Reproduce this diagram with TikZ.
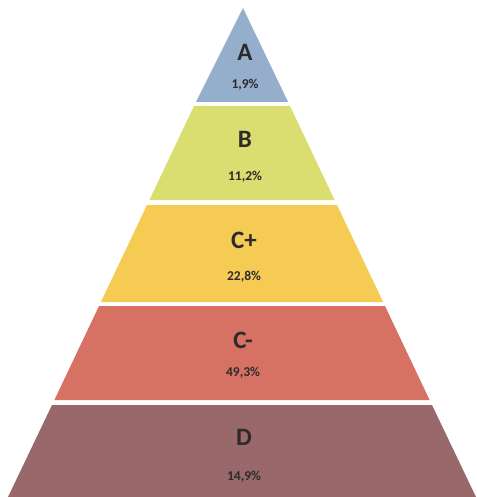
\documentclass[tikz,border=0pt]{standalone}
\usepackage{fontspec}
\setmainfont{Carlito}
\definecolor{cA}{RGB}{148,174,204}
\definecolor{cB}{RGB}{218,222,112}
\definecolor{cC}{RGB}{245,203,84}
\definecolor{cD}{RGB}{214,114,100}
\definecolor{cE}{RGB}{152,104,106}
\definecolor{txt}{RGB}{45,42,42}
\begin{document}
\begin{tikzpicture}[x=1pt,y=-1pt,
  letter/.style={font=\bfseries\fontsize{25}{25}\selectfont, text=txt, inner sep=0pt, anchor=center},
  pct/.style={font=\bfseries\fontsize{13.5}{13.5}\selectfont, text=txt, inner sep=0pt, anchor=center}]
\useasboundingbox (0,0) rectangle (476,497);
% bands
\fill[cA] (243,8) -- (288.1,102) -- (195.9,102) -- cycle;
\fill[cB] (194,106) -- (290,106) -- (334.6,200) -- (149.4,200) -- cycle;
\fill[cC] (147,205) -- (337,205) -- (383.1,302) -- (100.9,302) -- cycle;
\fill[cD] (99,306) -- (385,306) -- (429.6,400) -- (54.4,400) -- cycle;
\fill[cE] (52,405) -- (432,405) -- (476,497) -- (8,497) -- cycle;
% labels
\node[letter] (la) at (245,52) {A};
\node[pct] (pa) at (245,85) {1,9\%};
\node[letter] (lb) at (245,139) {B};
\node[pct] (pb) at (245,177) {11,2\%};
\node[letter] (lc) at (244,240) {C+};
\node[pct] (pc) at (244,277) {22,8\%};
\node[letter] (ld) at (243,340) {C-};
\node[pct] (pd) at (243,373) {49,3\%};
\node[letter] (le) at (244,437) {D};
\node[pct] (pe) at (244,477) {14,9\%};
\end{tikzpicture}
\end{document}
